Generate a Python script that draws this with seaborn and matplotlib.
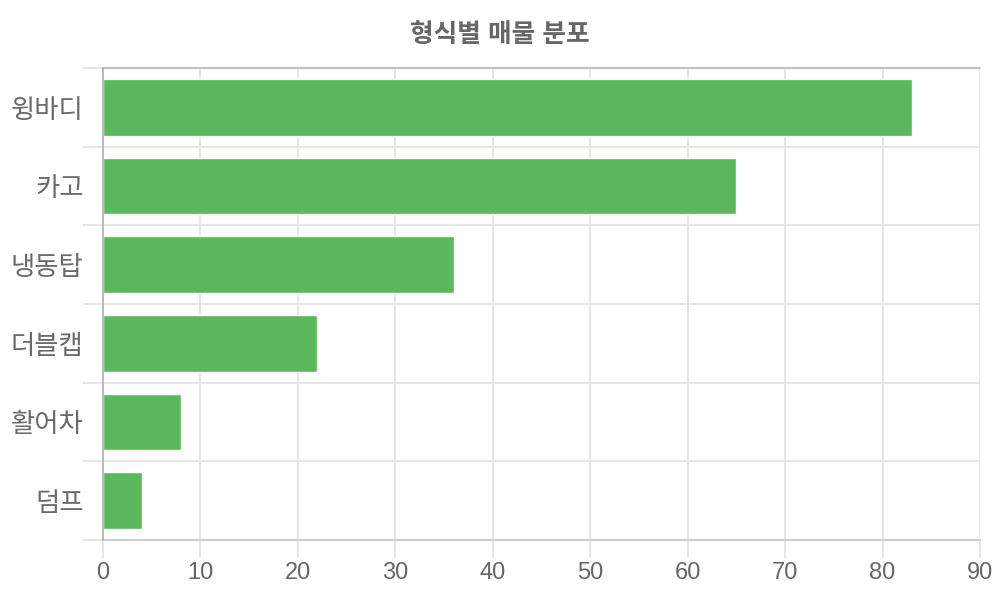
import matplotlib
matplotlib.use("Agg")
import matplotlib.pyplot as plt
import seaborn as sns
import pandas as pd
import numpy as np

categories = ["윙바디", "카고", "냉동탑", "더블캡", "활어차", "덤프"]
values = [83, 65, 36, 22, 8, 4]
x_ticks = [0, 10, 20, 30, 40, 50, 60, 70, 80, 90]
title = "형식별 매물 분포"

sns.set_theme(style="white")
plt.rcParams['font.family'] = ['Liberation Sans', 'Noto Sans CJK KR', 'DejaVu Sans']

df = pd.DataFrame({"형식": categories, "매물": values})

fig = plt.figure(figsize=(10, 6), dpi=100)
ax = fig.add_axes([0.103, 0.1, 0.877, 0.7867])

sns.barplot(data=df, x="매물", y="형식", orient="h", color="#5cb85c",
            saturation=1, width=0.72, ax=ax, zorder=3)

ax.set_xlim(0, 90)
ax.set_ylim(len(categories) - 0.5, -0.5)
ax.set_xticks(x_ticks)
ax.set_xticklabels([str(t) for t in x_ticks])
ax.set_xlabel("")
ax.set_ylabel("")

# category boundary lines as minor ticks
bounds = np.arange(-0.5, len(categories), 1.0)
ax.set_yticks(bounds, minor=True)
ax.grid(True, which="minor", axis="y", color="#e2e2e2", linewidth=1.2, zorder=0)
ax.grid(True, which="major", axis="x", color="#e2e2e2", linewidth=1.2, zorder=0)
ax.grid(False, which="major", axis="y")

ax.tick_params(axis="y", which="minor", left=True, length=14.4, width=1.2, color="#e2e2e2")
ax.tick_params(axis="y", which="major", left=False, length=0, pad=14)
ax.tick_params(axis="x", which="major", bottom=True, length=13, width=1.2, color="#e2e2e2",
               pad=3, labelsize=17, labelcolor="#666666")
for lbl in ax.get_yticklabels():
    lbl.set_fontsize(19)
    lbl.set_color("#6a6a6a")
    lbl.set_fontfamily(['Noto Sans CJK KR', 'DejaVu Sans'])
    lbl.set_fontweight("light")

for side in ["top", "right", "bottom", "left"]:
    ax.spines[side].set_visible(False)
ax.spines["left"].set_visible(True)
ax.spines["left"].set_color("#b0b0b0")
ax.spines["left"].set_linewidth(1.2)
ax.spines["left"].set_zorder(4)
ax.spines["bottom"].set_visible(True)
ax.spines["bottom"].set_color("#d0d0d0")
ax.spines["bottom"].set_linewidth(1.5)

# top border (darker)
ax.axhline(-0.5, color="#c0c0c0", linewidth=1.5, zorder=2, clip_on=False)

fig.text(0.5, 0.942, title, ha="center", va="center", fontsize=18.5,
         fontweight="bold", color="#666666")

fig.savefig("out.png", dpi=100)
